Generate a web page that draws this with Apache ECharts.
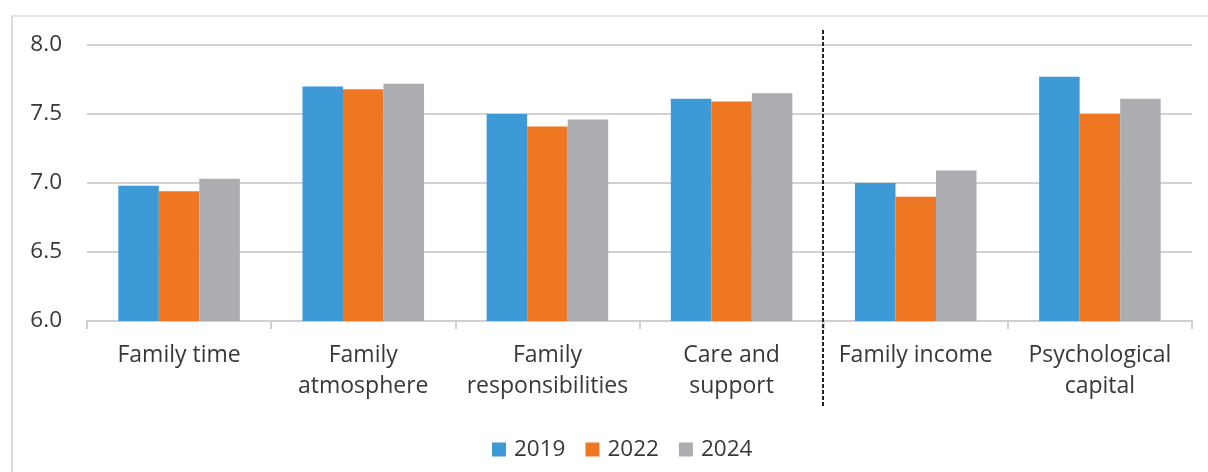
<!DOCTYPE html>
<html>
<head>
<meta charset="utf-8">
<script src="https://cdn.jsdelivr.net/npm/echarts@6/dist/echarts.min.js"></script>
<style>
  html, body { margin: 0; padding: 0; background: #fff; }
  #frame { position: absolute; left: 11px; top: 15px; width: 1210px; height: 470px;
           border-left: 2px solid #dcdcdc; border-top: 2px solid #e4e4e4; }
  #chart { position: absolute; left: 0; top: 0; width: 1208px; height: 472px; }
</style>
</head>
<body>
<div id="frame"></div>
<div id="chart"></div>
<script>
// Domain scores by survey year
const categories = ['Family time', 'Family\natmosphere', 'Family\nresponsibilities',
                    'Care and\nsupport', 'Family income', 'Psychological\ncapital'];
const years = ['2019', '2022', '2024'];
const values2019 = [6.98, 7.70, 7.50, 7.61, 7.00, 7.77];
const values2022 = [6.94, 7.68, 7.41, 7.59, 6.90, 7.50];
const values2024 = [7.03, 7.72, 7.46, 7.65, 7.09, 7.61];
const yTicks = { min: 6.0, max: 8.0, interval: 0.5 };

const colors = ['#3d9ad6', '#f07722', '#acadb0'];
const textColor = '#383838';
const font = 'Open Sans';

const chart = echarts.init(document.getElementById('chart'), null, { renderer: 'canvas' });

const seriesData = [values2019, values2022, values2024];
chart.setOption({
  animation: false,
  color: colors,
  textStyle: { fontFamily: font },
  grid: { left: 87, right: 16, top: 45, bottom: 151, containLabel: false },
  legend: {
    data: years,
    left: 487, top: 433,
    itemWidth: 14, itemHeight: 14, itemGap: 20,
    icon: 'rect',
    textStyle: { fontSize: 22.5, color: textColor, fontFamily: font, padding: [0, 0, 0, 3] }
  },
  xAxis: {
    type: 'category',
    data: categories,
    axisLine: { lineStyle: { color: '#cfcfcf', width: 2 } },
    axisTick: { show: true, length: 8, lineStyle: { color: '#cfcfcf', width: 2 } },
    axisLabel: { fontSize: 23, color: textColor, lineHeight: 31, margin: 19, interval: 0 },
    splitLine: { show: false }
  },
  yAxis: {
    type: 'value',
    min: yTicks.min, max: yTicks.max, interval: yTicks.interval,
    axisLine: { show: false },
    axisTick: { show: false },
    axisLabel: { fontSize: 22.5, color: textColor, margin: 25,
                 formatter: v => v.toFixed(1) },
    splitLine: { lineStyle: { color: '#d2d2d2', width: 2 } }
  },
  series: years.map((y, i) => ({
    name: y,
    type: 'bar',
    data: seriesData[i],
    barGap: '0%',
    barCategoryGap: '34%'
  }))
});

// Dashed separator between the family domains and the resource domains
const xa = chart.convertToPixel({ xAxisIndex: 0 }, 3);
const xb = chart.convertToPixel({ xAxisIndex: 0 }, 4);
const sepX = Math.round((xa + xb) / 2) - 1;
chart.setOption({
  graphic: [{
    type: 'line',
    shape: { x1: sepX, y1: 30, x2: sepX, y2: 408 },
    style: { stroke: '#222', lineWidth: 2, lineDash: [4, 2] },
    z: 10
  }]
});
</script>
</body>
</html>
